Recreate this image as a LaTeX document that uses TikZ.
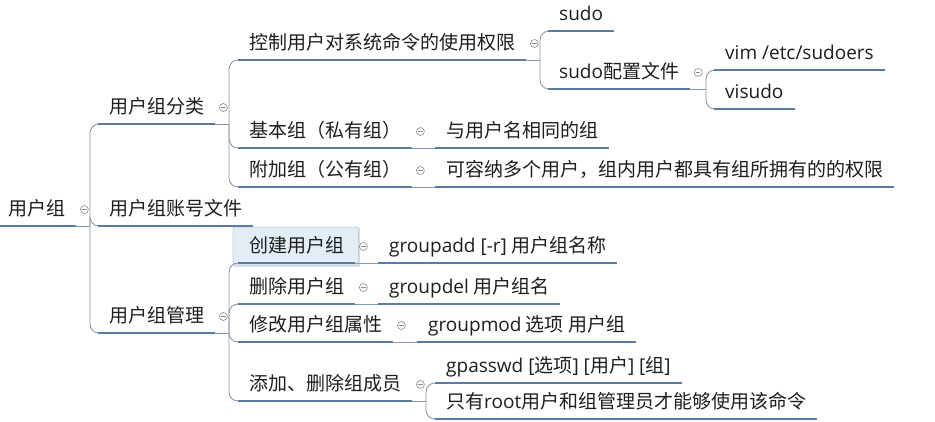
\documentclass[tikz,border=0pt]{standalone}
\usepackage{fontspec}
\setmainfont{Noto Sans CJK SC}
\newfontfamily\latf{Open Sans}
\usetikzlibrary{calc}
\pgfdeclarelayer{back}
\pgfdeclarelayer{bg}
\pgfsetlayers{back,bg,main}
\definecolor{ulc}{HTML}{5A7BA2}
\definecolor{cnc}{HTML}{8A98AC}
\definecolor{txc}{HTML}{1E1E1E}
\definecolor{tgc}{HTML}{8C8C8C}
\definecolor{hlf}{HTML}{E3EDF5}
\definecolor{hld}{HTML}{BFD1E1}
\definecolor{hls}{HTML}{D6DEE6}
\begin{document}
\begin{tikzpicture}[x=1pt,y=-1pt,
  topic/.style={anchor=south west, inner xsep=11pt, inner ysep=0pt, text height=14pt, text depth=10pt, font=\fontsize{19}{22}\selectfont, text=txc},
  uline/.style={draw=ulc, line width=2.8pt},
  conn/.style={draw=cnc, line width=0.9pt},
  brch/.style={conn, rounded corners=9pt},
  tog/.style={circle, draw=tgc, line width=0.6pt, minimum size=8pt, inner sep=0pt,
    path picture={\draw[tgc, line width=0.6pt] ($(path picture bounding box.center)+(-2.2,0)$) -- ($(path picture bounding box.center)+(2.2,0)$);}},
  hlbox/.style={draw=hld, fill=hlf, line width=0.8pt, rounded corners=2pt},
]
\begin{pgfonlayer}{back}
\fill[white] (0,0) rectangle (935,421);
\end{pgfonlayer}
\useasboundingbox (0,0) rectangle (935,421);

% topics
\node[topic] (root) at (-3,226) {用户组};
\node[topic] (a1) at (98,124) {用户组分类};
\node[topic] (a2) at (98,226) {用户组账号文件};
\node[topic] (a3) at (98,333) {用户组管理};
\node[topic] (b1) at (238,60) {控制用户对系统命令的使用权限};
\node[topic] (b2) at (238,148) {基本组（私有组）};
\node[topic] (b3) at (238,187) {附加组（公有组）};
\node[topic] (c1) at (548,31) {\latf sudo};
\node[topic] (c2) at (548,89) {{\latf sudo}配置文件};
\node[topic] (d1) at (714,70) {\latf vim /etc/sudoers};
\node[topic] (d2) at (714,109) {\latf visudo};
\node[topic] (e1) at (435,148) {与用户名相同的组};
\node[topic] (e2) at (435,187) {可容纳多个用户，组内用户都具有组所拥有的的权限};
\node[topic] (f1) at (238,263) {创建用户组};
\node[topic] (f2) at (238,304) {删除用户组};
\node[topic] (f3) at (238,342) {修改用户组属性};
\node[topic] (f4) at (238,401) {添加、删除组成员};
\node[topic] (g1) at (378,263) {{\latf groupadd [-r]} 用户组名称};
\node[topic] (g2) at (378,304) {{\latf groupdel} 用户组名};
\node[topic] (g3) at (417,342) {{\latf groupmod} 选项 用户组};
\node[topic] (h1) at (435,383) {{\latf gpasswd [}选项{\latf ] [}用户{\latf ] [}组{\latf ]}};
\node[topic] (h2) at (435,419) {只有{\latf root}用户和组管理员才能够使用该命令};

% highlight of the selected topic
\begin{pgfonlayer}{bg}
  \fill[hls] ($(f1.south west)+(-4,3.5)$) rectangle ($(f1.south east)+(4.5,-35)$);
  \draw[hlbox] ($(f1.south west)+(-5,2)$) rectangle ($(f1.south east)+(3,-36)$);
\end{pgfonlayer}

% connectors
\coordinate (j0) at (90,226);
\coordinate (j1) at (229,124);
\coordinate (j2) at (540,60);
\coordinate (j3) at (706,89);
\coordinate (j4) at (229,333);
\coordinate (j5) at (426,401);

\draw[conn] (root.south east) -- (j0);
\foreach \c in {a1,a2,a3} \draw[brch] (j0) |- (\c.south west);
\draw[conn] (a1.south east) -- (j1);
\foreach \c in {b1,b2,b3} \draw[brch] (j1) |- (\c.south west);
\draw[conn] (b1.south east) -- (j2);
\foreach \c in {c1,c2} \draw[brch] (j2) |- (\c.south west);
\draw[conn] (c2.south east) -- (j3);
\foreach \c in {d1,d2} \draw[brch] (j3) |- (\c.south west);
\draw[conn] (b2.south east) -- (e1.south west);
\draw[conn] (b3.south east) -- (e2.south west);
\draw[conn] (a3.south east) -- (j4);
\foreach \c in {f1,f2,f3,f4} \draw[brch] (j4) |- (\c.south west);
\draw[conn] (f1.south east) -- (g1.south west);
\draw[conn] (f2.south east) -- (g2.south west);
\draw[conn] (f3.south east) -- (g3.south west);
\draw[conn] (f4.south east) -- (j5);
\foreach \c in {h1,h2} \draw[brch] (j5) |- (\c.south west);

% underlines
\foreach \n in {root,a1,a2,a3,b1,b2,b3,c1,c2,d1,d2,e1,e2,f1,f2,f3,f4,g1,g2,g3,h1,h2}
  \draw[uline] (\n.south west) -- (\n.south east);

% collapse toggles
\foreach \n in {root,a1,a3,b1,b2,b3,c2,f1,f2,f3,f4}
  \node[tog] (t\n) at ($(\n.south east)+(8,-16.5)$) {};
\end{tikzpicture}
\end{document}
